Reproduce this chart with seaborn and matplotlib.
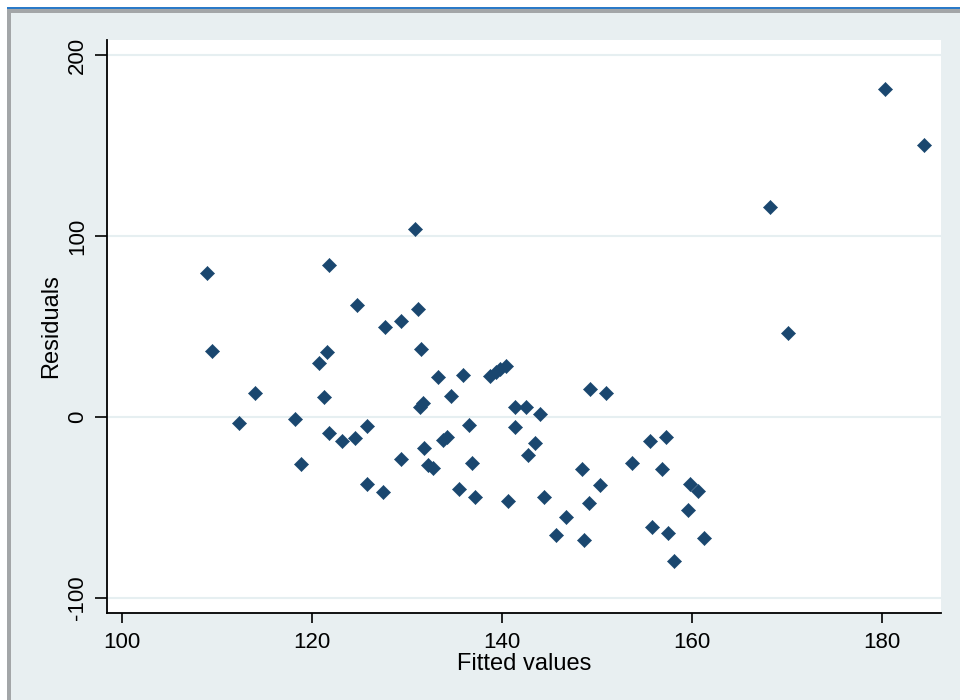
import seaborn as sns
import matplotlib.pyplot as plt
from matplotlib.patches import Rectangle
import pandas as pd

# values
fitted = [108.9, 109.5, 112.3, 114.0, 118.2, 118.8, 120.7, 121.2, 121.6, 121.8,
          121.8, 123.1, 124.5, 124.7, 125.8, 125.8, 127.5, 127.7, 129.4, 129.4,
          130.8, 131.1, 131.3, 131.5, 131.7, 131.8, 132.2, 132.7, 133.2, 133.8,
          134.2, 134.6, 135.5, 135.9, 136.5, 136.8, 137.1, 138.7, 139.3, 139.8,
          140.4, 140.6, 141.3, 141.3, 142.5, 142.7, 143.5, 144.0, 144.4, 145.7,
          146.7, 148.4, 148.6, 149.1, 149.3, 150.3, 150.9, 153.7, 155.6, 155.8,
          156.8, 157.3, 157.5, 158.1, 159.6, 159.8, 160.6, 161.3, 168.2, 170.1,
          180.3, 184.4]
residuals = [79.6, 36.5, -3.3, 13.3, -1.1, -26.0, 29.8, 11.0, 35.9, 84.0,
             -8.8, -13.3, -11.6, 61.9, -5.0, -37.0, -41.4, 49.7, 53.0, -23.2,
             103.9, 59.7, 5.5, 37.6, 7.7, -17.1, -26.5, -28.2, 22.1, -12.7,
             -11.0, 11.6, -39.8, 23.2, -4.4, -25.4, -44.2, 22.7, 24.9, 26.5,
             28.2, -46.4, 5.5, -5.5, 5.5, -21.0, -14.4, 1.7, -44.2, -65.2,
             -55.2, -28.7, -68.0, -47.5, 15.5, -37.6, 13.3, -25.4, -13.3, -60.8,
             -28.7, -11.0, -64.1, -79.6, -51.4, -37.0, -40.9, -66.9, 116.0, 46.4,
             181.2, 150.3]
x_ticks = [100, 120, 140, 160, 180]
y_ticks = [-100, 0, 100, 200]

df = pd.DataFrame({'Fitted values': fitted, 'Residuals': residuals})

sns.set_theme(style='white')
plt.rcParams['font.family'] = ['Liberation Sans', 'DejaVu Sans']
plt.rcParams['axes.unicode_minus'] = False

W, H = 960, 700
navy = '#1a476f'
fig = plt.figure(figsize=(9.6, 7), dpi=100, facecolor='#e8eff1')

# window frame (white strip, blue title line, gray border)
def px_rect(x0, y0, x1, y1, color):
    fig.add_artist(Rectangle((x0 / W, 1 - y1 / H), (x1 - x0) / W, (y1 - y0) / H,
                             transform=fig.transFigure, color=color, lw=0, zorder=0))

px_rect(0, 0, W, 7, 'white')
px_rect(0, 0, 7, H, 'white')
px_rect(7, 7, W, 9, '#2a7ac8')
px_rect(7, 9, W, 13, '#a3a6a8')
px_rect(7, 9, 11, H, '#a3a6a8')

ax = fig.add_axes([107 / W, 1 - 613 / H, (941 - 107) / W, (613 - 40) / H])
ax.set_facecolor('white')

for y in y_ticks:
    ax.axhline(y, color='#e6eff1', lw=1.5, zorder=0)

sns.scatterplot(data=df, x='Fitted values', y='Residuals', marker='D', s=52,
                color=navy, edgecolor=navy, linewidth=0.4, ax=ax, zorder=3)

ax.set_xlim(98.4, 186.2)
ax.set_ylim(-108.3, 208.3)
ax.set_xticks(x_ticks)
ax.set_yticks(y_ticks)

for side in ['top', 'right']:
    ax.spines[side].set_visible(False)
for side in ['left', 'bottom']:
    ax.spines[side].set_color('black')
    ax.spines[side].set_linewidth(1.3)

ax.tick_params(axis='y', direction='out', length=8.5, width=1.2, pad=5,
               labelsize=16, labelrotation=90, left=True, colors='black')
ax.tick_params(axis='x', direction='out', length=7, width=1.2, pad=7,
               labelsize=16, bottom=True, colors='black')
for lab in ax.get_yticklabels():
    lab.set_va('center')

ax.set_xlabel('Fitted values', fontsize=17, labelpad=0, color='black')
ax.set_ylabel('Residuals', fontsize=17, labelpad=4, color='black')

plt.savefig('out.png', dpi=100, facecolor=fig.get_facecolor())
plt.close()
